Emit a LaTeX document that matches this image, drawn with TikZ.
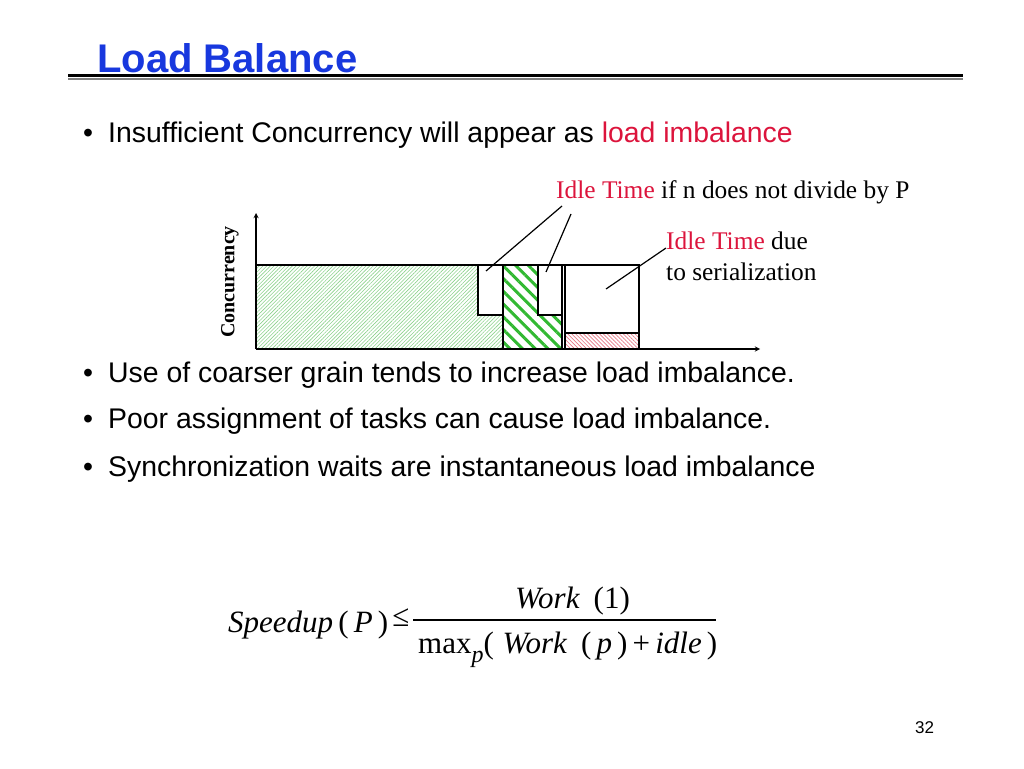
\documentclass[tikz,border=0pt]{standalone}
\usepackage{fontspec}
\setmainfont{Liberation Serif}
\setsansfont{Liberation Sans}
\usetikzlibrary{patterns.meta}
\definecolor{titleblue}{RGB}{24,56,222}
\definecolor{idlered}{RGB}{220,20,60}
\definecolor{hatchgreen}{RGB}{140,210,140}
\definecolor{boldgreen}{RGB}{50,185,50}
\definecolor{hatchred}{RGB}{230,120,135}
\newcommand{\idletime}{\textcolor{idlered}{Idle Time}}
\begin{document}
\begin{tikzpicture}[x=1pt, y=-1pt, line join=miter, >=stealth,
	slide/.style={font=\fontsize{28.4}{34}\sffamily, anchor=base west, inner sep=0pt},
	note/.style={font=\fontsize{25.4}{31}\selectfont, anchor=base west, inner sep=0pt},
	eqn/.style={font=\fontsize{31}{37}\selectfont, anchor=base west, inner sep=0pt},
	leader/.style={line width=1.2pt}]
	\useasboundingbox (0,0) rectangle (1024,768);
	\def\xo{256} \def\xe{760} \def\yb{349} \def\yt{265} \def\yn{315}
	% title and rule
	\node[font=\fontsize{40}{48}\sffamily\bfseries, text=titleblue, anchor=base west, inner sep=0pt] (title) at (97,72) {Load Balance};
	\draw[line width=2pt, gray] (68,78.5) -- (963,78.5);
	\draw[line width=3pt] (68,75) -- (963,75);
	% bullets
	\node[slide] (d1) at (83,142) {•};
	\node[slide] (b1) at (108,142) {Insufficient Concurrency will appear as \textcolor{idlered}{load imbalance}};
	\foreach \y/\t [count=\k from 2] in {382/Use of coarser grain tends to increase load imbalance., 428/Poor assignment of tasks can cause load imbalance., 476/Synchronization waits are instantaneous load imbalance}{
		\node[slide] (d\k) at (83,\y) {•};
		\node[slide] (b\k) at (108,\y) {\t};
	}
	% chart
	\fill[pattern={Lines[angle=45,distance=2.6pt,line width=0.6pt]}, pattern color=hatchgreen]
		(\xo,\yt) -- (478,\yt) -- (478,\yn) -- (503,\yn) -- (503,\yb) -- (\xo,\yb) -- cycle;
	\fill[pattern={Lines[angle=-45,distance=9pt,line width=3pt]}, pattern color=boldgreen]
		(503,\yt) -- (538,\yt) -- (538,\yn) -- (562,\yn) -- (562,\yb) -- (503,\yb) -- cycle;
	\fill[pattern={Lines[angle=-45,distance=2.8pt,line width=0.7pt]}, pattern color=hatchred]
		(565,333) rectangle (639,\yb);
	\draw[line width=1.3pt] (\xo,\yt) -- (639,\yt);
	\draw[line width=1.3pt] (478,\yt) rectangle (503,\yn) (538,\yt) rectangle (562,\yn);
	\draw[line width=2.4pt] (503,\yt) -- (503,\yb) (562,\yt) -- (562,\yb) (565,333) -- (639,333);
	\draw[line width=1.3pt] (565,\yt) rectangle (639,\yb);
	\draw[line width=1.3pt, ->] (\xo,\yb) -- (\xo,213);
	\draw[line width=1.3pt, ->] (\xo,\yb) -- (\xe,\yb);
	\node[font=\fontsize{20}{24}\selectfont\bfseries, rotate=90] (conc) at (230,282) {Concurrency};
	% idle time labels
	\node[note] (idleA) at (556,198) {\idletime{} if n does not divide by P};
	\node[note] (idleB) at (666,249) {\idletime{} due};
	\node[note] (idleC) at (666,280) {to serialization};
	\coordinate (n1) at (486,271);
	\coordinate (n2) at (546,272);
	\coordinate (s1) at (606,289);
	\coordinate (a1) at (562,206);
	\coordinate (a2) at (571,214);
	\coordinate (a3) at (666,248);
	\draw[leader] (n1) -- (a1) (n2) -- (a2) (s1) -- (a3);
	% formula
	\node[eqn] (spd) at (228,632) {\textit{Speedup}\,(\,\textit{P}\,)\hspace{4pt}\raisebox{6pt}{≤}};
	\node[eqn] (num) at (515,608) {\textit{Work}\;\,(1)};
	\node[eqn] (den) at (418,653) {max\raisebox{-9pt}{\fontsize{24}{28}\selectfont\textit{p}}(\;\textit{Work}\;\,(\,\textit{p}\,)\,+\,\textit{idle}\,)};
	\coordinate (fl) at (413,620);
	\coordinate (fr) at (716,620);
	\draw[line width=1.2pt] (fl) -- (fr);
	\node[font=\fontsize{17}{20}\sffamily, anchor=base west, inner sep=0pt] (page) at (915,733) {32};
\end{tikzpicture}
\end{document}
